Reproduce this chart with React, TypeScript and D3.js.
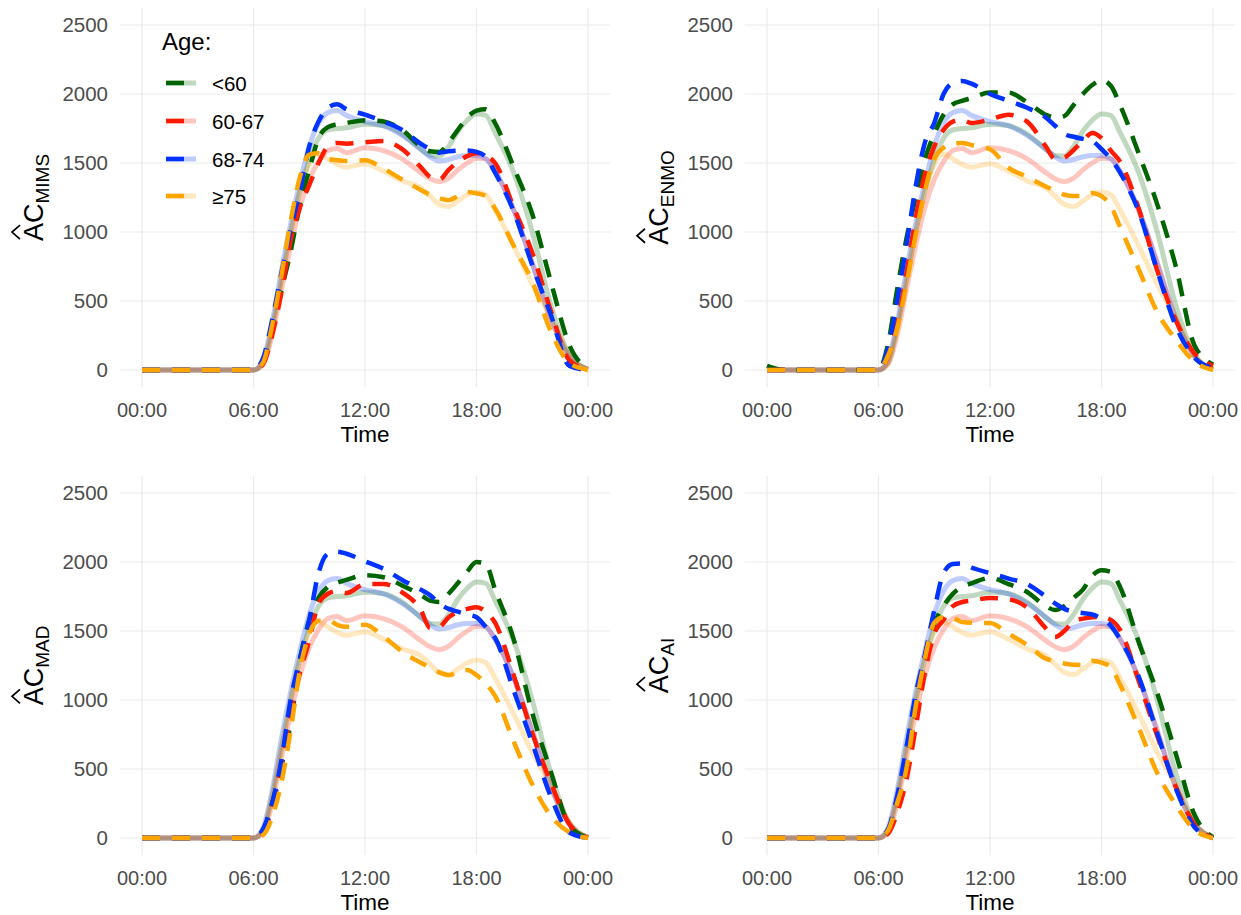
import React from 'react';
import * as d3 from 'd3';

// ---------------- DATA ----------------
const hours = [0, 1, 6, 6.5, 7, 7.5, 8, 8.5, 9, 9.5, 10, 10.5, 11, 12, 13, 14, 15, 15.5, 16, 16.5, 17, 17.5, 18, 18.5, 19, 20, 21, 22, 23, 24];

const ageGroups = ['<60', '60-67', '68-74', '≥75'];
const metrics = ['MIMS', 'ENMO', 'MAD', 'AI'];

const yTicks = [0, 500, 1000, 1500, 2000, 2500];
const xTicks = [0, 6, 12, 18, 24];
const xTickLabels = ['00:00', '06:00', '12:00', '18:00', '00:00'];

// faded reference curves (same in every panel)
const refGreen = [0, 0, 0, 50, 300, 650, 1000, 1300, 1520, 1680, 1740, 1750, 1755, 1780, 1770, 1710, 1600, 1555, 1550, 1620, 1730, 1810, 1855, 1845, 1720, 1430, 1000, 470, 110, 5];
const refRed = [0, 0, 0, 40, 250, 580, 900, 1180, 1380, 1510, 1590, 1605, 1575, 1610, 1590, 1530, 1430, 1385, 1365, 1390, 1450, 1500, 1535, 1530, 1440, 1160, 780, 370, 100, 5];
const refBlue = [0, 0, 0, 70, 340, 720, 1060, 1360, 1620, 1790, 1865, 1880, 1845, 1800, 1770, 1700, 1600, 1545, 1515, 1525, 1545, 1555, 1555, 1530, 1440, 1160, 770, 370, 100, 5];
const refOrange = [0, 0, 0, 50, 300, 650, 1000, 1300, 1490, 1565, 1530, 1490, 1470, 1495, 1440, 1370, 1320, 1260, 1200, 1185, 1225, 1270, 1290, 1270, 1160, 900, 620, 380, 110, 5];

// MIMS
const mimsGreen = [0, 0, 0, 60, 300, 580, 860, 1200, 1450, 1680, 1760, 1780, 1790, 1810, 1800, 1740, 1620, 1585, 1580, 1650, 1740, 1830, 1880, 1890, 1790, 1470, 1130, 640, 180, 5];
const mimsRed = [0, 0, 0, 40, 250, 560, 940, 1180, 1340, 1500, 1620, 1645, 1640, 1650, 1660, 1600, 1470, 1400, 1380, 1450, 1510, 1550, 1570, 1555, 1500, 1180, 850, 430, 70, 5];
const mimsBlue = [0, 0, 0, 80, 360, 700, 1020, 1300, 1620, 1800, 1900, 1925, 1890, 1850, 1800, 1740, 1640, 1600, 1575, 1585, 1590, 1590, 1580, 1545, 1430, 1150, 760, 400, 30, 0];
const mimsOrange = [0, 0, 0, 50, 320, 680, 1080, 1400, 1560, 1570, 1530, 1520, 1515, 1520, 1460, 1380, 1305, 1270, 1245, 1230, 1260, 1290, 1280, 1260, 1170, 900, 640, 280, 50, 0];

// ENMO
const enmoGreen = [30, 0, 0, 180, 580, 950, 1250, 1530, 1710, 1850, 1925, 1950, 1970, 2010, 2010, 1940, 1850, 1830, 1840, 1920, 2000, 2065, 2100, 2060, 1920, 1570, 1200, 750, 180, 40];
const enmoRed = [0, 0, 0, 100, 330, 700, 1100, 1420, 1620, 1740, 1800, 1812, 1790, 1815, 1850, 1800, 1620, 1530, 1540, 1594, 1660, 1717, 1680, 1590, 1510, 1170, 720, 360, 120, 30];
const enmoBlue = [0, 0, 0, 150, 500, 900, 1330, 1650, 1790, 2000, 2080, 2094, 2075, 2000, 1950, 1900, 1830, 1770, 1710, 1690, 1675, 1660, 1600, 1530, 1430, 1150, 720, 320, 90, 15];
const enmoOrange = [0, 0, 0, 100, 300, 620, 980, 1300, 1530, 1610, 1640, 1645, 1630, 1600, 1465, 1400, 1330, 1300, 1270, 1260, 1260, 1283, 1260, 1190, 1036, 730, 420, 220, 60, 0];

// MAD
const madGreen = [0, 0, 0, 50, 250, 520, 833, 1290, 1580, 1740, 1819, 1850, 1870, 1905, 1890, 1830, 1761, 1720, 1710, 1770, 1848, 1930, 2000, 1985, 1800, 1440, 906, 480, 90, 0];
const madRed = [0, 0, 0, 40, 220, 520, 900, 1200, 1430, 1700, 1770, 1790, 1775, 1840, 1840, 1780, 1652, 1522, 1530, 1600, 1640, 1660, 1672, 1640, 1560, 1180, 760, 400, 100, 0];
const madBlue = [0, 0, 0, 60, 250, 560, 1000, 1300, 1580, 1920, 2060, 2075, 2060, 2005, 1950, 1870, 1800, 1760, 1700, 1660, 1640, 1620, 1600, 1530, 1450, 1070, 690, 300, 40, 0];
const madOrange = [0, 0, 0, 20, 150, 400, 780, 1217, 1480, 1575, 1580, 1545, 1530, 1545, 1460, 1350, 1270, 1235, 1200, 1180, 1200, 1217, 1180, 1120, 1030, 700, 390, 160, 40, 0];

// AI
const aiGreen = [0, 0, 0, 40, 250, 514, 920, 1290, 1550, 1680, 1770, 1819, 1845, 1884, 1840, 1783, 1680, 1652, 1680, 1740, 1800, 1900, 1940, 1928, 1819, 1420, 1050, 610, 170, 5];
const aiRed = [0, 0, 0, 30, 180, 420, 800, 1200, 1480, 1580, 1680, 1710, 1720, 1739, 1730, 1670, 1520, 1457, 1500, 1570, 1590, 1600, 1601, 1580, 1507, 1140, 740, 370, 100, 0];
const aiBlue = [0, 0, 0, 60, 300, 650, 1040, 1330, 1650, 1920, 1985, 1990, 1960, 1920, 1880, 1840, 1750, 1700, 1660, 1640, 1630, 1620, 1590, 1540, 1440, 1170, 760, 360, 80, 0];
const aiOrange = [0, 0, 0, 50, 250, 500, 950, 1300, 1560, 1600, 1594, 1565, 1560, 1558, 1480, 1400, 1300, 1280, 1265, 1255, 1254, 1285, 1270, 1239, 1110, 800, 471, 240, 60, 0];

const refSeries = [refGreen, refRed, refBlue, refOrange];
const metricSeries = [
  [mimsGreen, mimsRed, mimsBlue, mimsOrange],
  [enmoGreen, enmoRed, enmoBlue, enmoOrange],
  [madGreen, madRed, madBlue, madOrange],
  [aiGreen, aiRed, aiBlue, aiOrange],
];

// ---------------- STYLE / LAYOUT ----------------
const colors = ['#006400', '#ff1a00', '#0033ff', '#ffa500'];
const FONT = 'Liberation Sans, Arial, Helvetica, sans-serif';
const DASH = '18 12';
const panelOrigins = [
  { x0: 142, y0: 370 },
  { x0: 767, y0: 370 },
  { x0: 142, y0: 838 },
  { x0: 767, y0: 838 },
];
const PW = 446;
const PH = 345;

// Arial-ish advance widths (em)
const W: Record<string, number> = { A: 0.667, C: 0.722, M: 0.833, I: 0.278, S: 0.667, E: 0.667, N: 0.722, O: 0.778, D: 0.722 };
const strW = (s: string, f: number) => s.split('').reduce((a, c) => a + (W[c] || 0.6) * f, 0);

function YTitle({ metric, x, y }: { metric: string; x: number; y: number }) {
  const big = 27;
  const small = 19;
  const total = strW('AC', big) + strW(metric, small);
  const start = -total / 2;
  const aW = strW('A', big);
  const ac = start + aW / 2;
  return (
    <g transform={`translate(${x},${y}) rotate(-90)`}>
      <text x={start} y={0} fontFamily={FONT} fontSize={big} fill="#000">
        AC
        <tspan fontSize={small} dy={6}>{metric}</tspan>
      </text>
      <path d={`M${ac - 7},-23 L${ac},-31 L${ac + 7},-23`} fill="none" stroke="#000" strokeWidth={1.7} />
    </g>
  );
}

function Panel({ idx }: { idx: number }) {
  const { x0, y0 } = panelOrigins[idx];
  const x = d3.scaleLinear().domain([0, 24]).range([x0, x0 + PW]);
  const y = d3.scaleLinear().domain([0, 2500]).range([y0, y0 - PH]);
  const line = d3
    .line<number>()
    .x((_, i) => x(hours[i]))
    .y((d) => y(d))
    .curve(d3.curveMonotoneX);
  const xl = x(-1.2);
  const xr = x(25.2);
  const yt = y(2625);
  const yb = y(-125);
  return (
    <g>
      {yTicks.map((t) => (
        <line key={'h' + t} x1={xl} x2={xr} y1={y(t)} y2={y(t)} stroke="#ebebeb" strokeWidth={1.2} />
      ))}
      {xTicks.map((t, i) => (
        <line key={'v' + i} x1={x(t)} x2={x(t)} y1={yt} y2={yb} stroke="#ebebeb" strokeWidth={1.2} />
      ))}
      {yTicks.map((t) => (
        <text key={'yl' + t} x={x0 - 34} y={y(t)} dy="0.36em" textAnchor="end" fontFamily={FONT} fontSize={20.5} fill="#4d4d4d">
          {t}
        </text>
      ))}
      {xTicks.map((t, i) => (
        <text key={'xl' + i} x={x(t)} y={y0 + 47} textAnchor="middle" fontFamily={FONT} fontSize={20} fill="#4d4d4d">
          {xTickLabels[i]}
        </text>
      ))}
      <text x={x(12)} y={y0 + 72} textAnchor="middle" fontFamily={FONT} fontSize={22.5} fill="#000">
        Time
      </text>
      <YTitle metric={metrics[idx]} x={x0 - 99} y={(yt + yb) / 2} />
      {refSeries.map((s, i) => (
        <path key={'r' + i} d={line(s) || ''} fill="none" stroke={colors[i]} strokeOpacity={0.25} strokeWidth={5} />
      ))}
      {metricSeries[idx].map((s, i) => (
        <path key={'m' + i} d={line(s) || ''} fill="none" stroke={colors[i]} strokeWidth={4.5} strokeDasharray={DASH} />
      ))}
    </g>
  );
}

function Legend() {
  const lx = 166;
  const keyY = [83, 121, 159, 196];
  return (
    <g>
      <text x={162} y={50} fontFamily={FONT} fontSize={24} fill="#000">
        Age:
      </text>
      {ageGroups.map((g, i) => (
        <g key={g}>
          <line x1={lx} x2={lx + 30} y1={keyY[i]} y2={keyY[i]} stroke={colors[i]} strokeOpacity={0.25} strokeWidth={5} />
          <line x1={lx} x2={lx + 30} y1={keyY[i]} y2={keyY[i]} stroke={colors[i]} strokeWidth={4.5} strokeDasharray={DASH} />
          <text x={212} y={keyY[i] + 8} fontFamily={FONT} fontSize={20.5} fill="#000">
            {g}
          </text>
        </g>
      ))}
    </g>
  );
}

export default function App() {
  return (
    <svg width={1241} height={915} style={{ position: 'absolute', left: 0, top: 0, background: '#fff' }}>
      <rect x={0} y={0} width={1241} height={915} fill="#fff" />
      {[0, 1, 2, 3].map((i) => (
        <Panel key={i} idx={i} />
      ))}
      <Legend />
    </svg>
  );
}
